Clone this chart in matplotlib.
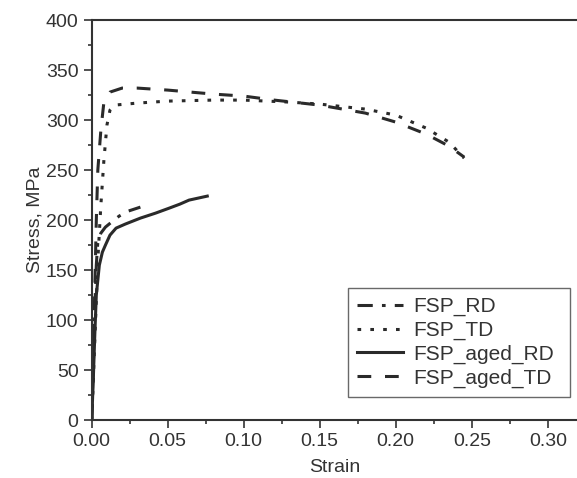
import numpy as np
from matplotlib import pyplot as plt
from matplotlib.ticker import MultipleLocator

plt.rcParams['font.family'] = ['Liberation Sans', 'DejaVu Sans']

# FSP_RD (dash-dot)
rd_strain = [0, 0.001, 0.002, 0.003, 0.004, 0.006, 0.009, 0.013, 0.018, 0.024, 0.032]
rd_stress = [0, 50, 110, 155, 178, 187, 193, 198, 204, 209, 213]

# FSP_TD (dotted)
td_strain = [0, 0.002, 0.004, 0.006, 0.008, 0.01, 0.012, 0.015, 0.03, 0.05, 0.08,
             0.10, 0.13, 0.15, 0.18, 0.20, 0.22, 0.235, 0.245]
td_stress = [0, 80, 160, 215, 260, 295, 310, 315, 317, 319, 320,
             320, 318, 316, 311, 305, 292, 278, 262]

# FSP_aged_RD (solid)
ard_strain = [0, 0.001, 0.002, 0.003, 0.005, 0.007, 0.009, 0.012, 0.016, 0.022,
              0.032, 0.042, 0.051, 0.058, 0.064, 0.07, 0.076]
ard_stress = [0, 40, 85, 125, 155, 168, 175, 185, 192, 196,
              202, 207, 212, 216, 220, 222, 224]

# FSP_aged_TD (dashed)
atd_strain = [0, 0.001, 0.002, 0.003, 0.004, 0.006, 0.008, 0.012, 0.02, 0.03, 0.05,
              0.08, 0.10, 0.12, 0.15, 0.18, 0.20, 0.22, 0.235, 0.245]
atd_stress = [0, 60, 130, 200, 250, 290, 318, 328, 332, 332, 330,
              326, 324, 320, 315, 307, 298, 286, 274, 263]

fig = plt.figure(figsize=(5.77, 4.78), dpi=100)
ax = fig.add_axes([0.159, 0.121, 0.843, 0.837])

c = '#2a2a2a'
ax.plot(rd_strain, rd_stress, color=c, lw=2.2, dashes=(5, 3, 1.2, 3), label='FSP_RD')
ax.plot(td_strain, td_stress, color=c, lw=2.2, dashes=(1.2, 3), label='FSP_TD')
ax.plot(ard_strain, ard_stress, color=c, lw=2.2, label='FSP_aged_RD')
ax.plot(atd_strain, atd_stress, color=c, lw=2.2, dashes=(4.5, 4.5), label='FSP_aged_TD')

ax.set_xlim(0, 0.32)
ax.set_ylim(0, 400)
ax.xaxis.set_major_locator(MultipleLocator(0.05))
ax.xaxis.set_minor_locator(MultipleLocator(0.025))
ax.yaxis.set_major_locator(MultipleLocator(50))
ax.yaxis.set_minor_locator(MultipleLocator(25))
ax.xaxis.set_major_formatter(plt.FormatStrFormatter('%.2f'))
ax.tick_params(which='major', length=6, width=1.2, labelsize=14, colors='#333333')
ax.tick_params(which='minor', length=3, width=1.2, colors='#333333')
for s in ax.spines.values():
    s.set_linewidth(1.5)
    s.set_color('#333333')

ax.set_xlabel('Strain', fontsize=14, color='#333333', labelpad=6)
ax.set_ylabel('Stress, MPa', fontsize=14, color='#333333', labelpad=2)

ax.legend(loc='lower left', bbox_to_anchor=(0.527, 0.0575, 0.457, 0.2725),
          mode='expand', borderaxespad=0, fontsize=15, frameon=True,
          fancybox=False, edgecolor='#444444', handlelength=2.2, borderpad=0.45,
          labelspacing=0.22, handletextpad=0.5, labelcolor='#333333')

plt.savefig('out.png', dpi=100)
